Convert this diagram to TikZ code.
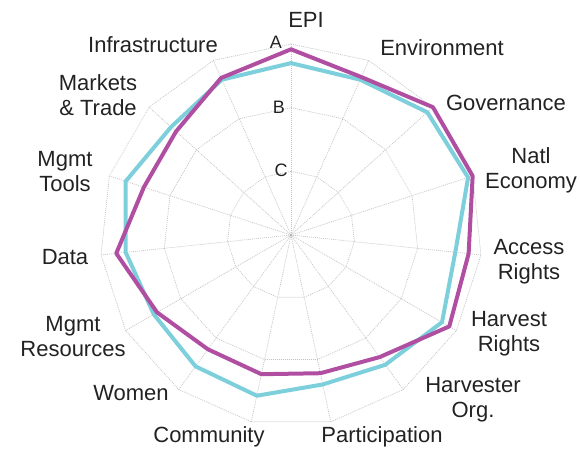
\documentclass[tikz,border=0pt]{standalone}
\usepackage{fontspec}
\setmainfont{Liberation Sans}
\definecolor{radarcyan}{HTML}{7DCFDB}
\definecolor{radarmag}{HTML}{B04FA2}
\definecolor{gridgray}{HTML}{C4C4C4}
\definecolor{labelgray}{HTML}{222222}
\tikzset{
	gridline/.style={gridgray, line width=0.7pt, dash pattern=on 1pt off 1pt},
	axislabel/.style={text=labelgray, font=\fontsize{22}{25}\selectfont, align=center, inner sep=0pt},
	gradelabel/.style={text=labelgray, font=\fontsize{18}{20}\selectfont, inner sep=0pt},
	score/.style={line width=4pt, line join=round}
}
\begin{document}
\begin{tikzpicture}[x=1pt,y=1pt]
		\useasboundingbox (-291,-218) rectangle (289,235);
	
		\foreach \r in {63.67,127.33,191}
			\draw[gridline] (90:\r) \foreach \a in {66,42,...,-246} {-- (\a:\r)} -- cycle;
		\foreach \a in {90,66,...,-246}
			\draw[gridline] (0,0) -- (\a:191);
		\fill[gray!60] (0,0) circle (1.5);
	
		\node[gradelabel] (gradeA) at (-15,193) {A};
		\node[gradelabel] (gradeB) at (-12,128) {B};
		\node[gradelabel] (gradeC) at (-10,65) {C};
	
		\draw[score, radarcyan] (90:171.9) -- (66:170) -- (42:183.4) -- (18:186.2) -- (-6:165.2)
			-- (-30:174.4) -- (-54:160.4) -- (-78:152.8) -- (-102:164.3) -- (-126:162.4)
			-- (-150:158.5) -- (-174:166.2) -- (162:173.8) -- (138:161.4) -- (114:170) -- cycle;
		\draw[score, radarmag] (90:185.7) -- (66:172.9) -- (42:191) -- (18:191) -- (-6:178.6)
			-- (-30:182.8) -- (-54:150.9) -- (-78:141.3) -- (-102:142.3) -- (-126:141.3)
			-- (-150:154.7) -- (-174:175.7) -- (162:154.7) -- (138:154.7) -- (114:171.9) -- cycle;
	
		\node[axislabel] (epi) at (15,215) {EPI};
		\node[axislabel] (environment) at (151,187) {Environment};
		\node[axislabel] (governance) at (215,132) {Governance};
		\node[axislabel] (economy) at (240,65) {Natl\\Economy};
		\node[axislabel] (access) at (238,-27) {Access\\Rights};
		\node[axislabel] (harvest) at (218,-99) {Harvest\\Rights};
		\node[axislabel] (harvester) at (182,-165) {Harvester\\Org.};
		\node[axislabel] (participation) at (91,-202) {Participation};
		\node[axislabel] (community) at (-82,-202) {Community};
		\node[axislabel] (women) at (-160,-158) {Women};
		\node[axislabel] (resources) at (-218,-102) {Mgmt\\Resources};
		\node[axislabel] (data) at (-226,-22) {Data};
		\node[axislabel] (tools) at (-226,63) {Mgmt\\Tools};
		\node[axislabel] (markets) at (-193,140) {Markets\\\& Trade};
		\node[axislabel] (infrastructure) at (-138,190) {Infrastructure};
	\end{tikzpicture}
\end{document}
